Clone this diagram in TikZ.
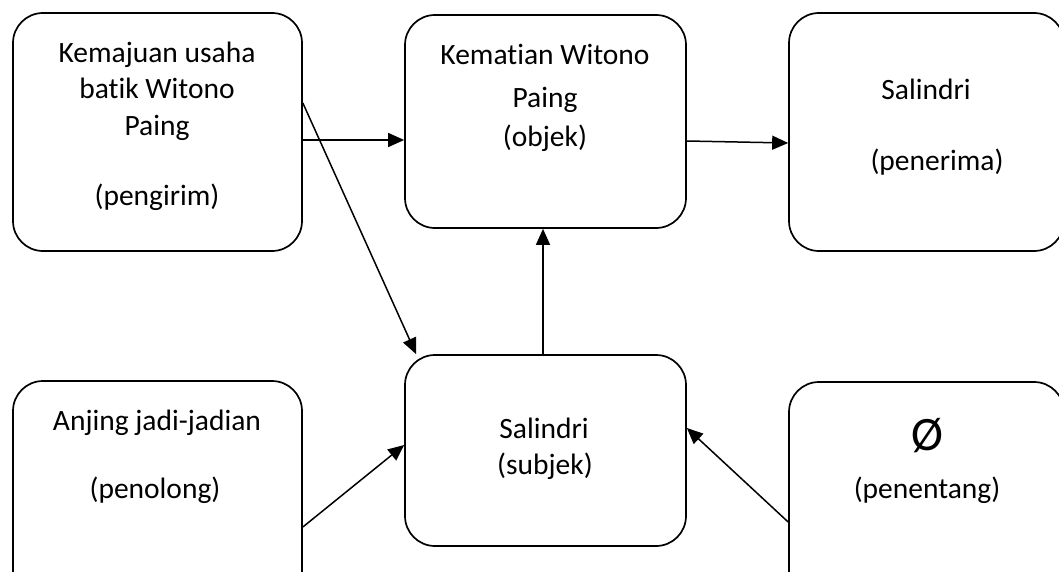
\documentclass[tikz,border=0pt]{standalone}
\usepackage{fontspec}
\setmainfont{Carlito}[RawFeature={-liga;-clig;-calt;-dlig}]
\usetikzlibrary{arrows.meta}
\begin{document}
\begin{tikzpicture}[x=1pt,y=-1pt,
  box/.style={draw,line width=1.7pt,rounded corners=30pt,inner sep=0pt},
  lbl/.style={anchor=base,inner sep=0pt,font=\fontsize{29.5}{35}\selectfont},
  big/.style={anchor=base,inner sep=0pt,font=\fontsize{48}{52}\selectfont},
  arr/.style={line width=1.5pt,-{Triangle[length=16pt,width=14pt]}}]
\useasboundingbox (0,0) rectangle (1059,572);
\begin{scope}
\clip (0,0) rectangle (1059,572);
% actant boxes
\node[box,minimum width=289pt,minimum height=238pt] (b1) at (157.5,132) {};
\node[box,minimum width=281pt,minimum height=213pt] (b2) at (545.5,121.5) {};
\node[box,minimum width=275pt,minimum height=238pt] (b3) at (926.5,132) {};
\node[box,minimum width=289pt,minimum height=228pt] (b4) at (157.5,495) {};
\node[box,minimum width=281pt,minimum height=191pt] (b5) at (545.5,450.5) {};
\node[box,minimum width=275pt,minimum height=228pt] (b6) at (926.5,496) {};
\end{scope}
% labels
\node[lbl] (t1a) at (157,63) {Kemajuan usaha};
\node[lbl] (t1b) at (157,99) {batik Witono};
\node[lbl] (t1c) at (157,136) {Paing};
\node[lbl] (t1d) at (157,205) {(pengirim)};
\node[lbl] (t2a) at (545,65) {Kematian Witono};
\node[lbl] (t2b) at (545,108) {Paing};
\node[lbl] (t2c) at (545,147) {(objek)};
\node[lbl] (t3a) at (926,100) {Salindri};
\node[lbl] (t3b) at (937,171) {(penerima)};
\node[lbl] (t4a) at (157,430) {Anjing jadi-jadian};
\node[lbl] (t4b) at (155,498) {(penolong)};
\node[lbl] (t5a) at (544,438) {Salindri};
\node[lbl] (t5b) at (545,474) {(subjek)};
\node[big] (t6a) at (927,450) {Ø};
\node[lbl] (t6b) at (927,498) {(penentang)};
% connectors
\draw[arr] ([yshift=-8pt]b1.east) -- ([yshift=-18.5pt]b2.west);
\draw[arr] ([yshift=-19.5pt]b2.east) -- ([yshift=-11pt]b3.west);
\draw[arr] ([yshift=29pt]b1.east) -- ([xshift=12pt]b5.north west);
\draw[arr] ([xshift=-2.5pt]b5.north) -- ([xshift=-2.5pt]b2.south);
\draw[arr] ([yshift=-32pt]b4.east) -- ([yshift=5.5pt]b5.west);
\draw[arr] ([yshift=-26pt]b6.west) -- ([yshift=22.5pt]b5.east);
\end{tikzpicture}
\end{document}
